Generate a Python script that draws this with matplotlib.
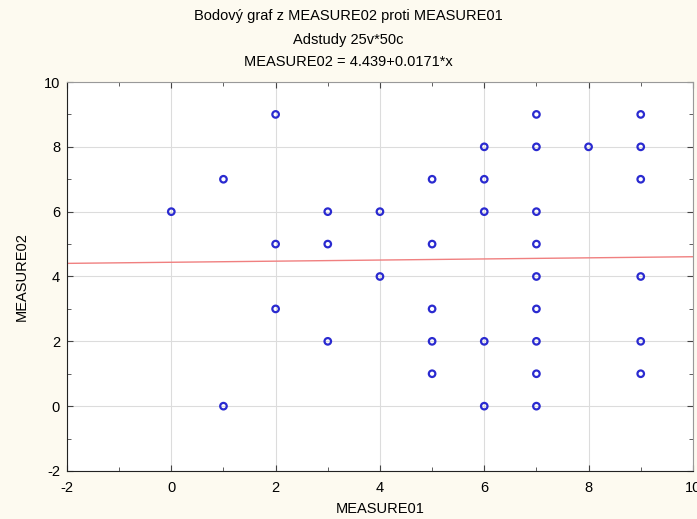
import matplotlib.pyplot as plt
from matplotlib.ticker import MultipleLocator

plt.rcParams['font.family'] = ['Liberation Sans', 'DejaVu Sans']
plt.rcParams['axes.unicode_minus'] = False

# data
measure01 = [0, 1, 1, 2, 2, 2, 3, 3, 3, 4, 4,
             5, 5, 5, 5, 5, 6, 6, 6, 6, 6,
             7, 7, 7, 7, 7, 7, 7, 7, 7, 8,
             9, 9, 9, 9, 9, 9]
measure02 = [6, 7, 0, 9, 5, 3, 6, 5, 2, 6, 4,
             7, 5, 3, 2, 1, 8, 7, 6, 2, 0,
             9, 8, 6, 5, 4, 3, 2, 1, 0, 8,
             9, 8, 7, 4, 2, 1]
intercept = 4.439
slope = 0.0171
fit_x = [-2, 10]

fig = plt.figure(figsize=(6.97, 5.19), dpi=100)
fig.patch.set_facecolor('#fdfaf0')
ax = fig.add_axes([0.0961, 0.0925, 0.898, 0.7495])
ax.set_facecolor('white')

ax.grid(True, color='#dcdcdc', lw=0.8)
ax.set_axisbelow(True)

ax.plot(fit_x, [intercept + slope * v for v in fit_x], color='#f08080', lw=1.0, zorder=2)
ax.scatter(measure01, measure02, s=22, facecolors='none', edgecolors='#2a2ad0',
           linewidths=1.6, zorder=3)

ax.set_xlim(-2, 10)
ax.set_ylim(-2, 10)
ax.xaxis.set_major_locator(MultipleLocator(2))
ax.yaxis.set_major_locator(MultipleLocator(2))
ax.xaxis.set_minor_locator(MultipleLocator(1))
ax.yaxis.set_minor_locator(MultipleLocator(1))
ax.tick_params(which='both', direction='in', top=True, right=True, labelsize=10.5,
               color='#444444')
ax.tick_params(which='major', length=4, pad=5)
ax.tick_params(axis='x', which='major', pad=7)
ax.tick_params(which='minor', length=3)
for side in ['left', 'bottom']:
    ax.spines[side].set_color('#222222')
for side in ['top', 'right']:
    ax.spines[side].set_color('#999999')

ax.set_xlabel('MEASURE01', fontsize=10.5, labelpad=5)
ax.set_ylabel('MEASURE02', fontsize=10.5, labelpad=11)

fig.text(0.5, 0.970, 'Bodový graf z MEASURE02 proti MEASURE01', ha='center', va='center', fontsize=10.5)
fig.text(0.5, 0.922, 'Adstudy 25v*50c', ha='center', va='center', fontsize=10.5)
fig.text(0.5, 0.880, 'MEASURE02 = 4.439+0.0171*x', ha='center', va='center', fontsize=10.5)

fig.savefig('out.png', dpi=100, facecolor=fig.get_facecolor())
